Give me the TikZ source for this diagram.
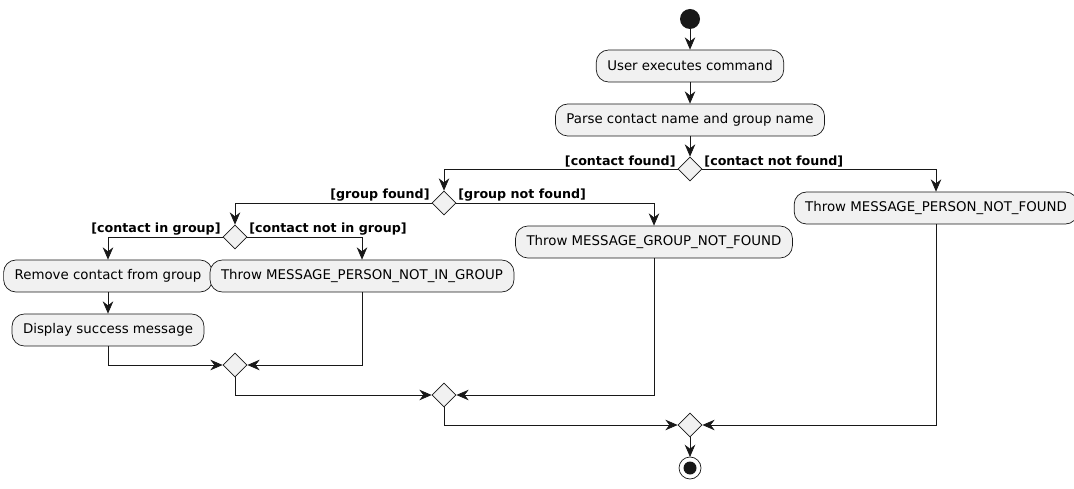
\documentclass[tikz,border=0pt]{standalone}
\usepackage{fontspec}
\setmainfont{DejaVu Sans}
\usetikzlibrary{shapes.geometric,arrows.meta}
\definecolor{boxfill}{HTML}{F1F1F1}
\definecolor{edge}{HTML}{181818}
\tikzset{
  act/.style={draw=edge, fill=boxfill, rounded corners=7pt, minimum height=0.64cm,
    inner xsep=0.22cm, font=\fontsize{7.6}{9}\selectfont},
  choice/.style={draw=edge, fill=boxfill, diamond, minimum width=0.48cm,
    minimum height=0.48cm, inner sep=0pt},
  guard/.style={font=\fontsize{7.2}{9}\selectfont\bfseries, inner sep=1pt},
  flow/.style={draw=edge, -{Stealth[length=7pt,width=6pt]}}
}
\begin{document}
\begin{tikzpicture}[x=0.02cm, y=-0.02cm]
    \useasboundingbox (0,0) rectangle (1074,489);

    % start and actions
    \fill[edge] (690,19) circle (10);
    \coordinate (start) at (690,29);
    \node[act] (exec) at (690,66) {User executes command};
    \node[act] (parse) at (690,120) {Parse contact name and group name};
    \node[choice] (contact) at (690,169) {};
    \node[act] (nofound) at (936,208) {Throw MESSAGE\_PERSON\_NOT\_FOUND};
    \node[choice] (group) at (444,203) {};
    \node[act] (nogroup) at (654,242) {Throw MESSAGE\_GROUP\_NOT\_FOUND};
    \node[choice] (ingroup) at (235,237) {};
    \node[act] (remove) at (108,276) {Remove contact from group};
    \node[act] (notin) at (362,276) {Throw MESSAGE\_PERSON\_NOT\_IN\_GROUP};
    \node[act] (display) at (108,330) {Display success message};

    % merges
    \node[choice] (merge1) at (235,365) {};
    \node[choice] (merge2) at (444,395) {};
    \node[choice] (merge3) at (690,425) {};

    % end
    \draw[edge, fill=white] (690,468) circle (11);
    \fill[edge] (690,468) circle (6.5);
    \coordinate (stop) at (690,457);

    % guards
    \node[guard, anchor=south east] at (contact.west) {[contact found]};
    \node[guard, anchor=south west] at (contact.east) {[contact not found]};
    \node[guard, anchor=south east] at (group.west) {[group found]};
    \node[guard, anchor=south west] at (group.east) {[group not found]};
    \node[guard, anchor=south east] at (ingroup.west) {[contact in group]};
    \node[guard, anchor=south west] at (ingroup.east) {[contact not in group]};

    % flows
    \draw[flow] (start) -- (exec);
    \draw[flow] (exec) -- (parse);
    \draw[flow] (parse) -- (contact);
    \draw[flow] (contact.west) -| (group.north);
    \draw[flow] (contact.east) -| (nofound.north);
    \draw[flow] (group.west) -| (ingroup.north);
    \draw[flow] (group.east) -| (nogroup.north);
    \draw[flow] (ingroup.west) -| (remove.north);
    \draw[flow] (ingroup.east) -| (notin.north);
    \draw[flow] (remove) -- (display);
    \draw[flow] (display.south) |- (merge1.west);
    \draw[flow] (notin.south) |- (merge1.east);
    \draw[flow] (merge1.south) |- (merge2.west);
    \draw[flow] (nogroup.south) |- (merge2.east);
    \draw[flow] (merge2.south) |- (merge3.west);
    \draw[flow] (nofound.south) |- (merge3.east);
    \draw[flow] (merge3) -- (stop);

\end{tikzpicture}
\end{document}
